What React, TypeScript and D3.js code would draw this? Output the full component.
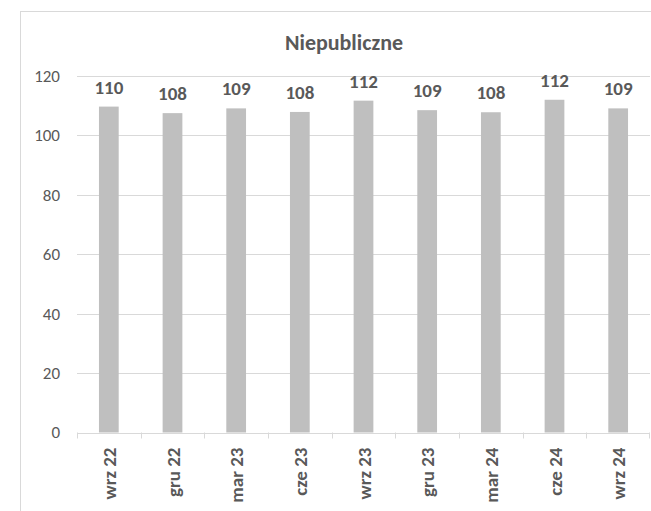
import React from 'react';
import * as d3 from 'd3';

// chart data
const categories = ['wrz 22', 'gru 22', 'mar 23', 'cze 23', 'wrz 23', 'gru 23', 'mar 24', 'cze 24', 'wrz 24'];
const values = [109.7, 107.5, 109.1, 107.9, 111.7, 108.5, 107.8, 112.0, 109.1];
const yTicks = [0, 20, 40, 60, 80, 100, 120];
const title = 'Niepubliczne';

const W = 651;
const H = 511;
const FONT = 'Carlito, Calibri, Lato, sans-serif';
const TEXT = '#595959';
const GRID = '#d9d9d9';
const BAR = '#bfbfbf';

const App = () => {
  const margin = { left: 77, right: 1, top: 76, bottom: 78.5 };

  // scales
  const x = d3.scaleBand<string>()
    .domain(categories)
    .range([margin.left, W - margin.right])
    .padding(0);

  const y = d3.scaleLinear()
    .domain([0, 120])
    .range([H - margin.bottom, margin.top]);

  const barW = x.bandwidth() * 0.31;
  const y0 = y(0);

  return (
    <svg width={W} height={H} style={{ position: 'absolute', left: 0, top: 0, background: '#fff' }}
      fontFamily={FONT}>
      {/* chart frame */}
      <rect x={20.5} y={11.5} width={660} height={540} fill="#fff" stroke={GRID} strokeWidth={1} />

      <text x={344} y={50} textAnchor="middle" fontSize={22} fontWeight="bold" fill={TEXT}>{title}</text>

      {/* gridlines + y labels */}
      {yTicks.map(t => (
        <g key={t}>
          {t > 0 && (
            <line x1={margin.left} x2={W - margin.right} y1={Math.round(y(t)) + 0.5} y2={Math.round(y(t)) + 0.5}
              stroke={GRID} strokeWidth={1} />
          )}
          <text x={60} y={y(t)} dy="0.35em" textAnchor="end" fontSize={17} fill={TEXT}>{t}</text>
        </g>
      ))}

      {/* bars */}
      {categories.map((c, i) => {
        const cx = (x(c) as number) + x.bandwidth() / 2;
        return (
          <g key={c}>
            <rect x={cx - barW / 2} y={y(values[i])} width={barW} height={y0 - y(values[i])} fill={BAR} />
            <text x={cx} y={y(values[i]) - 13} textAnchor="middle" fontSize={19} fontWeight="bold" fill={TEXT}>
              {Math.round(values[i])}
            </text>
          </g>
        );
      })}

      {/* x axis */}
      <line x1={margin.left} x2={W - margin.right} y1={Math.round(y0) + 0.5} y2={Math.round(y0) + 0.5}
        stroke={GRID} strokeWidth={1} />
      {categories.map(c => (
        <line key={'t' + c} x1={Math.round(x(c) as number) + 0.5} x2={Math.round(x(c) as number) + 0.5}
          y1={y0} y2={y0 + 6} stroke={GRID} strokeWidth={1} />
      ))}
      <line x1={W - margin.right - 0.5} x2={W - margin.right - 0.5} y1={y0} y2={y0 + 6} stroke={GRID} />
      {categories.map(c => {
        const cx = (x(c) as number) + x.bandwidth() / 2;
        return (
          <text key={'l' + c} transform={`translate(${cx + 7},${y0 + 15}) rotate(-90)`} textAnchor="end"
            fontSize={19} fontWeight="bold" fill={TEXT}>{c}</text>
        );
      })}
    </svg>
  );
};

export default App;
